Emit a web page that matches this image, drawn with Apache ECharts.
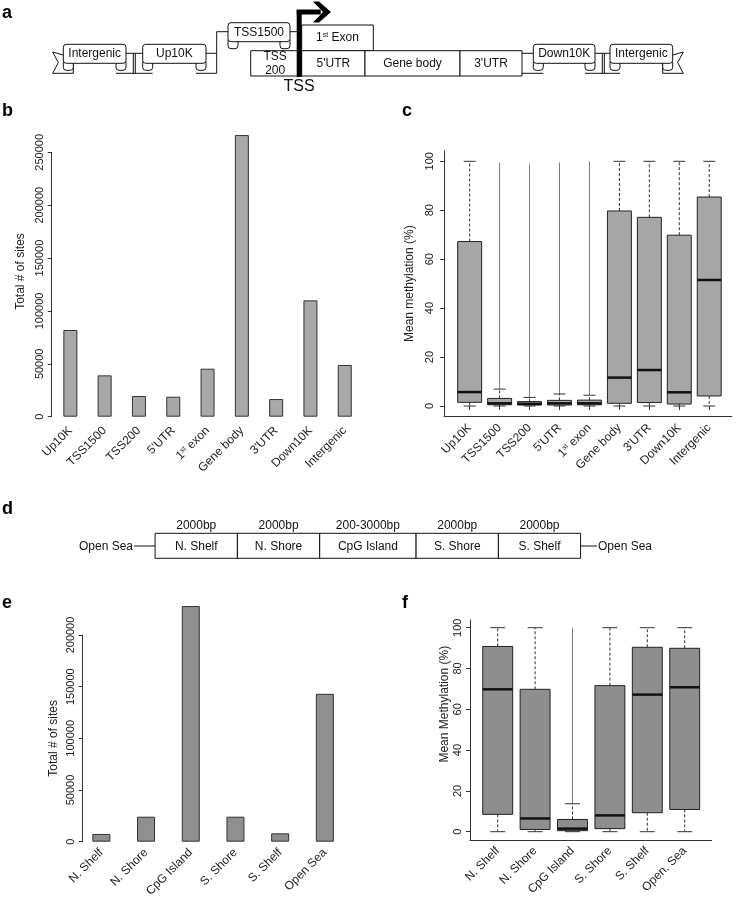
<!DOCTYPE html>
<html><head><meta charset="utf-8">
<script src="https://cdn.jsdelivr.net/npm/echarts@6/dist/echarts.min.js"></script>
<style>html,body{margin:0;padding:0;background:#fff}#chart{width:737px;height:899px}</style>
</head><body><div id="chart"></div>
<script>
// ---------- data ----------
const regionCats = ['Up10K', 'TSS1500', 'TSS200', "5'UTR", '1st exon', 'Gene body', "3'UTR", 'Down10K', 'Intergenic'];
const regionSites = [82000, 39100, 19600, 18900, 45400, 266300, 16700, 110000, 48900];
const regionMin = [0, 0, 0, 0, 0, 0, 0, 0, 0];
const regionQ1 = [1.5, 0.5, 0.4, 0.4, 0.5, 1.1, 1.4, 0.8, 4.1];
const regionMedian = [5.7, 1.1, 0.9, 1.1, 1.1, 11.6, 14.7, 5.6, 51.5];
const regionQ3 = [67.2, 3.1, 1.8, 2.3, 2.4, 79.7, 77.1, 69.8, 85.4];
const regionMax = [100, 6.9, 3.5, 4.9, 4.4, 100, 100, 100, 100];
const regionOutlierTop = [null, 99.5, 99, 99.5, 100, null, null, null, null];

const cpgCats = ['N. Shelf', 'N. Shore', 'CpG Island', 'S. Shore', 'S. Shelf', 'Open Sea'];
const cpgBoxCats = ['N. Shelf', 'N. Shore', 'CpG Island', 'S. Shore', 'S. Shelf', 'Open. Sea'];
const cpgSites = [7500, 24200, 228000, 24200, 8100, 143100];
const cpgMin = [0, 0, 0, 0, 0, 0];
const cpgQ1 = [8.5, 1.1, 0.5, 1.5, 9.3, 10.9];
const cpgMedian = [69.8, 6.5, 1.5, 8.0, 67.2, 70.8];
const cpgQ3 = [90.8, 69.8, 6.0, 71.6, 90.4, 89.9];
const cpgMax = [100, 100, 13.7, 100, 100, 100];
const cpgOutlierTop = [null, null, 100, null, null, null];

const geneLeftBanners = ['Intergenic', 'Up10K', 'TSS1500'];
const geneParts = ['TSS\n200', "5'UTR", 'Gene body', "3'UTR"];
const geneRightBanners = ['Down10K', 'Intergenic'];
const cpgParts = ['N. Shelf', 'N. Shore', 'CpG Island', 'S. Shore', 'S. Shelf'];
const cpgLengths = ['2000bp', '2000bp', '200-3000bp', '2000bp', '2000bp'];

// ---------- helpers ----------
const FONT = 'Liberation Sans, Arial, sans-serif';
const INK = '#111';
const TXT = '#222';
const G = [];
function gRect(x, y, w, h, r, fill) {
  return { type: 'rect', shape: { x: x, y: y, width: w, height: h, r: r || 0 }, style: { fill: fill || '#fff', stroke: INK, lineWidth: 1 } };
}
function gLine(x1, y1, x2, y2, w) {
  return { type: 'line', shape: { x1: x1, y1: y1, x2: x2, y2: y2 }, style: { stroke: INK, lineWidth: w || 1 } };
}
function gText(x, y, t, size, align, extra) {
  return { type: 'text', x: x, y: y, style: Object.assign({ text: t, fill: INK, fontSize: size || 12, fontFamily: FONT, align: align || 'center', verticalAlign: 'middle' }, extra || {}) };
}
function gPoly(points, fill) {
  return { type: 'polygon', shape: { points: points }, style: { fill: fill || '#fff', stroke: INK, lineWidth: 1 } };
}
function banner(x0, x1, y0, y1, label) {
  G.push(gRect(x0, y1 - 4, 10, 11, 3));
  G.push(gRect(x1 - 10, y1 - 4, 10, 11, 3));
  G.push(gRect(x0, y0, x1 - x0, y1 - y0, 3));
  G.push(gText((x0 + x1) / 2, (y0 + y1) / 2, label, 12));
}
const supRich = {
  n: { fontSize: 12, fontFamily: FONT, color: TXT },
  s: { fontSize: 7, fontFamily: FONT, color: TXT, verticalAlign: 'top' }
};
function supFmt(v) {
  const m = /^1st(.*)$/.exec(v);
  return m ? '{n|1}{s|st}{n|' + m[1] + '}' : '{n|' + v + '}';
}
function plainNum(v) { return String(v); }

// ---------- panel letters ----------
[['a', 2, 22], ['b', 2, 120], ['c', 402, 120], ['d', 2, 518], ['e', 2, 612], ['f', 402, 612]].forEach(function (p) {
  G.push(gText(p[1], p[2], p[0], 18, 'left', { fontWeight: 'bold', verticalAlign: 'bottom', fill: '#000' }));
});

// ---------- panel a diagram ----------
G.push(gPoly([[63.3, 55], [52.7, 52], [58.3, 62.5], [52.7, 73.3], [73.3, 73.3], [73.3, 63.3]]));
banner(63.3, 126, 44.3, 63.3, geneLeftBanners[0]);
G.push(gLine(126, 53.3, 142.7, 53.3));
G.push(gLine(116, 73.3, 152.7, 73.3));
G.push(gLine(133.3, 53.3, 133.3, 73.3));
G.push(gLine(135.3, 53.3, 135.3, 73.3));
banner(142.7, 206, 44.3, 63.3, geneLeftBanners[1]);
G.push(gLine(206, 53.3, 216.7, 53.3));
G.push(gLine(196, 73.3, 216.7, 73.3));
G.push(gLine(216.7, 31.7, 216.7, 73.3));
G.push(gLine(216.7, 31.7, 228, 31.7));
banner(228, 290, 22.7, 41.7, geneLeftBanners[2]);
G.push(gLine(290, 31.7, 298, 31.7));
G.push(gRect(301.7, 25, 71.6, 25.7));
G.push(gText(337.5, 37.8, '{n|1}{s|st}{n| Exon}', 12, 'center', { rich: { n: { fontSize: 12, fontFamily: FONT, fill: INK }, s: { fontSize: 7, fontFamily: FONT, fill: INK, verticalAlign: 'top' } } }));
const partX = [250.7, 301.7, 365, 460, 522];
for (let i = 0; i < geneParts.length; i++) {
  G.push(gRect(partX[i], 50.7, partX[i + 1] - partX[i], 25.3));
  G.push(gText((partX[i] + partX[i + 1]) / 2 + (i === 0 ? -1 : 0), 63.4, geneParts[i], 12, 'center', { lineHeight: 14 }));
}
G.push({ type: 'rect', shape: { x: 296.7, y: 10, width: 5, height: 67 }, style: { fill: '#000' } });
G.push({ type: 'rect', shape: { x: 296.7, y: 9.5, width: 24, height: 5 }, style: { fill: '#000' } });
G.push({ type: 'polygon', shape: { points: [[313, 1.5], [319, 1.5], [331, 12], [319, 22.5], [313, 22.5], [323, 12]] }, style: { fill: '#000' } });
G.push(gText(299, 86.5, 'TSS', 16));
G.push(gLine(522, 53.3, 533.3, 53.3));
G.push(gLine(522, 73.3, 543.3, 73.3));
banner(533.3, 595, 44.3, 63.3, geneRightBanners[0]);
G.push(gLine(595, 53.3, 610, 53.3));
G.push(gLine(585, 73.3, 620, 73.3));
G.push(gLine(602.3, 53.3, 602.3, 73.3));
G.push(gLine(604.3, 53.3, 604.3, 73.3));
G.push(gPoly([[672.7, 55], [683.3, 52], [677.7, 62.5], [683.3, 73.3], [662.7, 73.3], [662.7, 63.3]]));
banner(610, 672.7, 44.3, 63.3, geneRightBanners[1]);

// ---------- panel d diagram ----------
const cpgX = [155.1, 237.4, 319.7, 416.1, 498.4, 580.6];
G.push(gLine(134, 546, 155.1, 546));
G.push(gLine(580.6, 546, 597, 546));
G.push(gText(133, 546.5, 'Open Sea', 12, 'right'));
G.push(gText(598, 546.5, 'Open Sea', 12, 'left'));
for (let i = 0; i < cpgParts.length; i++) {
  G.push(gRect(cpgX[i], 533.3, cpgX[i + 1] - cpgX[i], 25));
  G.push(gText((cpgX[i] + cpgX[i + 1]) / 2, 546.5, cpgParts[i], 12));
  G.push(gText((cpgX[i] + cpgX[i + 1]) / 2, 526, cpgLengths[i], 12));
}

// ---------- box renderer ----------
function boxRenderer(fill) {
  return function (params, api) {
    const i = api.value(0);
    const band = api.size([1, 0])[0];
    const bw = band * 0.8, cw = bw * 0.5;
    const x = api.coord([i, 0])[0];
    const y = function (v) { return api.coord([i, v])[1]; };
    const lo = api.value(1), q1 = api.value(2), med = api.value(3), q3 = api.value(4), hi = api.value(5), out = api.value(6);
    const ch = [];
    if (isFinite(out) && out > hi) {
      ch.push({ type: 'line', shape: { x1: x, y1: y(hi), x2: x, y2: y(out) }, style: { stroke: '#7a7a7a', lineWidth: 1 } });
    }
    ch.push({ type: 'line', shape: { x1: x, y1: y(q3), x2: x, y2: y(hi) }, style: { stroke: '#333', lineWidth: 1, lineDash: [3, 2] } });
    ch.push({ type: 'line', shape: { x1: x, y1: y(q1), x2: x, y2: y(lo) }, style: { stroke: '#333', lineWidth: 1, lineDash: [3, 2] } });
    ch.push({ type: 'line', shape: { x1: x - cw / 2, y1: y(hi), x2: x + cw / 2, y2: y(hi) }, style: { stroke: '#333', lineWidth: 1 } });
    ch.push({ type: 'line', shape: { x1: x - cw / 2, y1: y(lo), x2: x + cw / 2, y2: y(lo) }, style: { stroke: '#333', lineWidth: 1 } });
    ch.push({ type: 'rect', shape: { x: x - bw / 2, y: y(q3), width: bw, height: y(q1) - y(q3) }, style: { fill: fill, stroke: '#222', lineWidth: 1 } });
    ch.push({ type: 'line', shape: { x1: x - bw / 2, y1: y(med), x2: x + bw / 2, y2: y(med) }, style: { stroke: '#111', lineWidth: 2.5 } });
    return { type: 'group', children: ch };
  };
}
function boxData(mn, q1, md, q3, mx, out) {
  return mn.map(function (v, i) { return [i, v, q1[i], md[i], q3[i], mx[i], out[i] == null ? NaN : out[i]]; });
}

// ---------- axes ----------
function frameAxis(gi) {
  return { gridIndex: gi, type: 'value', min: 0, max: 1, axisLine: { show: true, lineStyle: { color: '#333' } }, axisTick: { show: false }, axisLabel: { show: false }, splitLine: { show: false } };
}
function xLabel(margin) {
  return { rotate: 45, interval: 0, margin: margin, fontSize: 12, color: TXT, fontFamily: FONT, formatter: supFmt, rich: supRich };
}
function catAxis(gi, data, extra) {
  return Object.assign({
    gridIndex: gi, type: 'category', data: data,
    axisLine: { show: false }, axisTick: { show: false },
    axisLabel: xLabel(10)
  }, extra || {});
}
function yLabel(margin) {
  return { rotate: 90, margin: margin, fontSize: 11, color: TXT, fontFamily: FONT, formatter: plainNum };
}
function valAxis(gi, min, max, interval, extra) {
  return Object.assign({
    gridIndex: gi, type: 'value', min: min, max: max, interval: interval,
    axisLine: { show: true, lineStyle: { color: '#333' } },
    axisTick: { show: true, length: 4, lineStyle: { color: '#333' } },
    axisLabel: yLabel(6),
    splitLine: { show: false },
    nameLocation: 'middle',
    nameTextStyle: { fontSize: 12, color: TXT, fontFamily: FONT }
  }, extra || {});
}

const option = {
  animation: false,
  backgroundColor: '#fff',
  textStyle: { fontFamily: FONT },
  grid: [
    { left: 53.2, top: 152.3, width: 308.7, height: 264.4, outerBoundsMode: 'none' },
    { left: 454.7, top: 161.3, width: 269.5, height: 244.7, outerBoundsMode: 'none' },
    { left: 444, top: 150.7, width: 287.7, height: 265.3, outerBoundsMode: 'none' },
    { left: 79, top: 635, width: 268.2, height: 206.7, outerBoundsMode: 'none' },
    { left: 479, top: 627.7, width: 224.4, height: 204, outerBoundsMode: 'none' },
    { left: 470, top: 620, width: 241.7, height: 220, outerBoundsMode: 'none' }
  ],
  xAxis: [
    catAxis(0, regionCats, { axisLabel: xLabel(12) }),
    catAxis(1, regionCats, { offset: 10, axisTick: { show: true, alignWithLabel: true, length: 4, lineStyle: { color: '#333' } } }),
    frameAxis(2),
    catAxis(3, cpgCats, { axisLabel: xLabel(9) }),
    catAxis(4, cpgBoxCats, { offset: 8.3, axisLabel: xLabel(9) }),
    frameAxis(5)
  ],
  yAxis: [
    valAxis(0, 0, 250000, 50000, { offset: 1.5, name: 'Total # of sites', nameGap: 25, nameTextStyle: { fontSize: 12, color: TXT, fontFamily: FONT, padding: [0, 0, 0, 26] } }),
    valAxis(1, 0, 100, 20, { offset: 10.7, axisLine: { show: false }, axisLabel: yLabel(9), name: 'Mean methylation (%)', nameGap: 28 }),
    frameAxis(2),
    valAxis(3, 0, 200000, 50000, { offset: -3.7, name: 'Total # of sites', nameGap: 23 }),
    valAxis(4, 0, 100, 20, { offset: 9, axisLine: { show: false }, axisLabel: yLabel(7), name: 'Mean Methylation (%)', nameGap: 19, nameTextStyle: { fontSize: 12, color: TXT, fontFamily: FONT, padding: [0, 0, 0, 51] } }),
    frameAxis(5)
  ],
  series: [
    { type: 'bar', xAxisIndex: 0, yAxisIndex: 0, data: regionSites, barWidth: 14, clip: false, itemStyle: { color: '#a8a8a8', borderColor: '#333', borderWidth: 1 } },
    { type: 'custom', xAxisIndex: 1, yAxisIndex: 1, renderItem: boxRenderer('#a6a6a6'), encode: { x: 0, y: [1, 2, 3, 4, 5] }, data: boxData(regionMin, regionQ1, regionMedian, regionQ3, regionMax, regionOutlierTop) },
    { type: 'bar', xAxisIndex: 3, yAxisIndex: 3, data: cpgSites, barWidth: 18, clip: false, itemStyle: { color: '#8f8f8f', borderColor: '#333', borderWidth: 1 } },
    { type: 'custom', xAxisIndex: 4, yAxisIndex: 4, renderItem: boxRenderer('#8e8e8e'), encode: { x: 0, y: [1, 2, 3, 4, 5] }, data: boxData(cpgMin, cpgQ1, cpgMedian, cpgQ3, cpgMax, cpgOutlierTop) }
  ],
  graphic: { elements: G }
};

const chart = echarts.init(document.getElementById('chart'), null, { renderer: 'canvas' });
chart.setOption(option);
</script>
</body></html>
